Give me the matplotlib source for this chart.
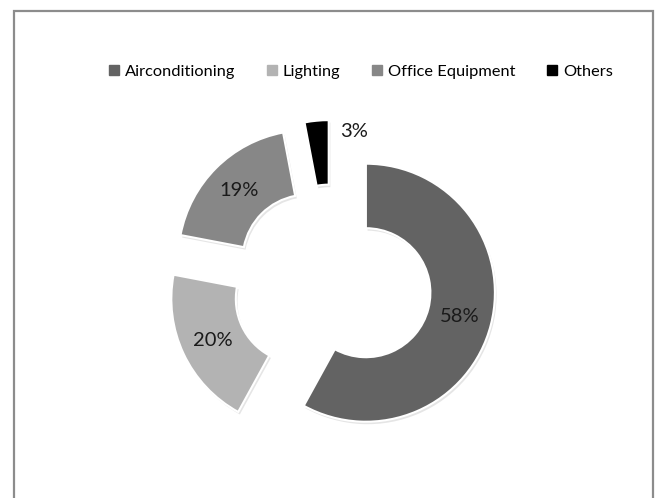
import numpy as np
import matplotlib
matplotlib.use("Agg")
import matplotlib.pyplot as plt
from matplotlib.lines import Line2D
from matplotlib.patches import Rectangle
import matplotlib.patheffects as pe

plt.rcParams['font.family'] = ['Lato', 'DejaVu Sans']

categories = ["Airconditioning", "Lighting", "Office Equipment", "Others"]
shares = [58, 20, 19, 3]
colors = ["#636363", "#b3b3b3", "#878787", "#000000"]

W, H = 659, 498
fig = plt.figure(figsize=(W / 100, H / 100), dpi=100)
ax = fig.add_axes([0, 0, 1, 1])

# Donut in pixel-like data units
cx, cy = 332, H - 284
radius = 129
ring = 0.5 * radius
gap = 35

wedges, texts, autotexts = ax.pie(
    shares,
    colors=colors,
    startangle=90,
    counterclock=False,
    center=(cx, cy),
    radius=radius,
    explode=[gap] * len(shares),
    autopct=lambda p: f"{p:.0f}%",
    pctdistance=0.75,
    wedgeprops=dict(width=ring, edgecolor="white", linewidth=1.5),
    textprops=dict(fontsize=14.5, color="#1a1a1a"),
    frame=True,
)
ax.set_xlim(0, W)
ax.set_ylim(0, H)
ax.axis("off")

for w in wedges:
    w.set_path_effects([
        pe.SimplePatchShadow(offset=(1.2, -1.8), shadow_rgbFace="#aaaaaa", alpha=0.3),
        pe.Normal(),
    ])

# Small slice label sits outside, to the right of the slice
w = wedges[-1]
ang = np.deg2rad(w.theta1 - 12)
wx, wy = w.center
autotexts[-1].set_position((wx + 0.93 * radius * np.cos(ang), wy + 0.93 * radius * np.sin(ang)))

handles = [Line2D([], [], marker="s", linestyle="none", markersize=7,
                  markerfacecolor=c, markeredgecolor=c) for c in colors]
fig.legend(handles, categories, loc="center", bbox_to_anchor=(0.548, 1 - 72 / H),
           ncol=4, frameon=False, fontsize=11.8, handlelength=0.6, handletextpad=0.35,
           columnspacing=1.95, borderpad=0)

fig.patches.append(Rectangle((14 / W, -0.01), (653 - 14) / W, 1.01 - 11 / H,
                             transform=fig.transFigure, fill=False,
                             edgecolor="#8c8c8c", linewidth=1.6))

fig.savefig("out.png", dpi=100, facecolor="white")
